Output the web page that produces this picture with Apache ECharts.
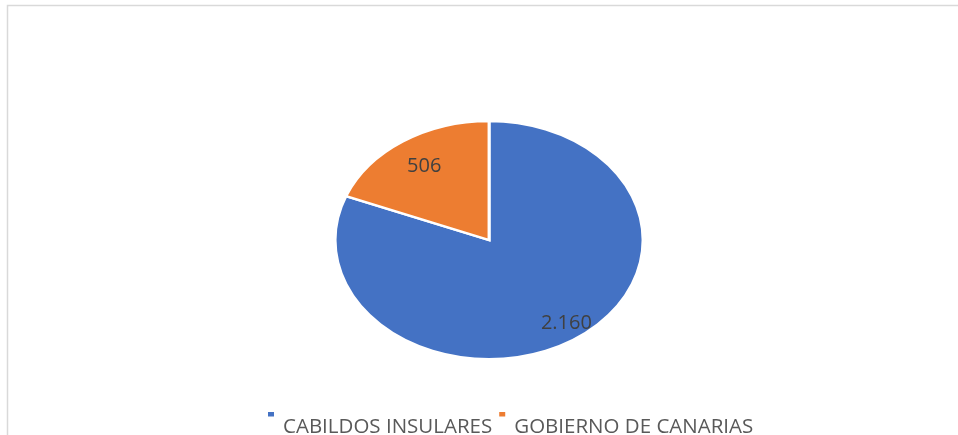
<!DOCTYPE html>
<html>
<head>
<meta charset="utf-8">
<script src="https://cdn.jsdelivr.net/npm/echarts@6/dist/echarts.min.js"></script>
<style>
  html, body { margin: 0; padding: 0; background: #fff; }
  #chart { width: 958px; height: 435px; }
</style>
</head>
<body>
<div id="chart"></div>
<script>
var categories = ['CABILDOS INSULARES', 'GOBIERNO DE CANARIAS']
var values = [2160, 506]
var colors = ['#4472c4', '#ed7d31']

var total = values.reduce(function (a, b) { return a + b }, 0)

// label distance from center, as a share of the radius (per slice)
var labelDist = [0.86, 0.75]

function fmt(v) {
  return String(v).replace(/\B(?=(\d{3})+(?!\d))/g, '.')
}

function renderSlice(params, api) {
  var i = params.seriesIndex
  var before = 0
  for (var k = 0; k < i; k++) before += values[k]
  var cx = api.getWidth() * 0.5105
  var cy = api.getHeight() * 0.552
  var rx = 154
  var ry = 119
  var start = -Math.PI / 2 + before / total * Math.PI * 2
  var end = start + api.value(0) / total * Math.PI * 2
  var mid = (start + end) / 2
  var d = labelDist[i]
  return {
    type: 'group',
    children: [{
      type: 'sector',
      x: cx,
      y: cy,
      scaleY: ry / rx,
      shape: { cx: 0, cy: 0, r0: 0, r: rx, startAngle: start, endAngle: end, clockwise: true },
      style: { fill: colors[i], stroke: '#fff', lineWidth: 3, strokeNoScale: true }
    }, {
      type: 'text',
      x: cx + Math.cos(mid) * rx * d + (i === 0 ? 3 : 0),
      y: cy + Math.sin(mid) * ry * d - (i === 0 ? 2 : 0),
      style: {
        text: fmt(api.value(0)),
        fill: '#404040',
        font: '20px "Open Sans"',
        align: 'center',
        verticalAlign: 'middle'
      }
    }]
  }
}

// small square sitting at the top of the legend row (excel style);
// the tiny corner dot only stretches the icon box
var legendIcon = 'path://M0,0h6v4.5h-6z M9.97,29.97h0.03v0.03h-0.03z'

var chart = echarts.init(document.getElementById('chart'))
chart.setOption({
  backgroundColor: '#fff',
  animation: false,
  color: colors,
  graphic: [{
    type: 'rect',
    shape: { x: 7.5, y: 5.5, width: 1000, height: 500 },
    style: { fill: 'none', stroke: '#d9d9d9', lineWidth: 1.5 },
    silent: true
  }],
  legend: {
    left: 268,
    top: 412,
    padding: 0,
    icon: legendIcon,
    itemWidth: 10,
    itemHeight: 30,
    itemGap: 7,
    data: categories,
    textStyle: {
      fontFamily: 'Open Sans',
      fontSize: 20.5,
      color: '#595959'
    }
  },
  series: categories.map(function (name, i) {
    return {
      type: 'custom',
      name: name,
      coordinateSystem: 'none',
      renderItem: renderSlice,
      data: [[values[i]]]
    }
  })
})
</script>
</body>
</html>
